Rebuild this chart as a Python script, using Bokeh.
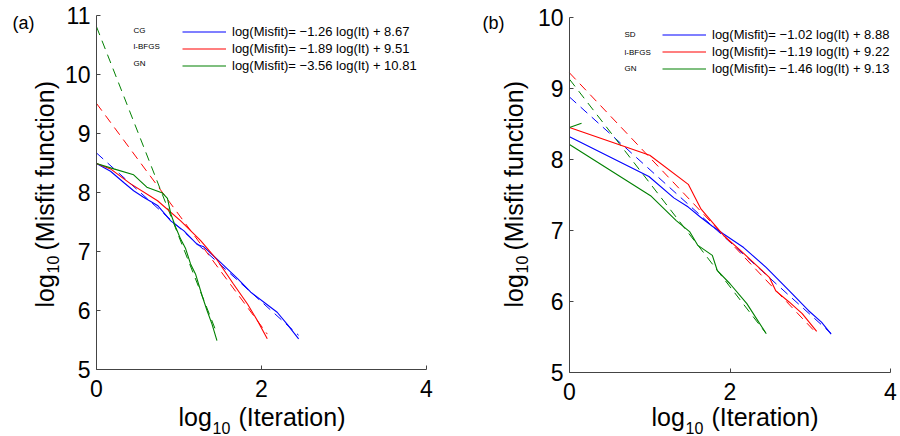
import math

from bokeh.embed import file_html
from bokeh.layouts import row
from bokeh.models import FixedTicker, Label, Legend, LegendItem, LinearAxis, Range1d
from bokeh.plotting import figure
from bokeh.resources import INLINE

FONT = "Liberation Sans"
BLUE = "#0000ff"
RED = "#ff0000"
GREEN = "#008000"
H = 436

# ---- panel (a): log10(iteration) vs log10(misfit) ----
a_cg_x = [0, 0.17, 0.33, 0.45, 0.57, 0.74, 0.90, 1.06, 1.22, 1.30, 1.50, 1.71, 1.87, 2.03, 2.19, 2.31, 2.45]
a_cg_y = [8.49, 8.36, 8.17, 8.03, 7.92, 7.78, 7.52, 7.35, 7.12, 7.08, 6.82, 6.54, 6.31, 6.14, 5.97, 5.77, 5.52]
a_lbfgs_x = [0, 0.17, 0.41, 0.74, 1.02, 1.26, 1.46, 1.66, 1.83, 1.95, 2.07]
a_lbfgs_y = [8.49, 8.40, 8.15, 7.86, 7.52, 7.19, 6.86, 6.45, 6.11, 5.83, 5.52]
a_gn_x = [0, 0.21, 0.45, 0.61, 0.80, 0.86, 0.90, 0.96, 1.02, 1.08, 1.14, 1.20, 1.28, 1.34, 1.40, 1.46]
a_gn_y = [8.49, 8.40, 8.30, 8.09, 7.99, 7.90, 7.64, 7.41, 7.21, 7.05, 6.79, 6.62, 6.25, 6.00, 5.77, 5.49]

# fitted lines (dashed), end points
a_cg_fit_x = [0, 2.45]
a_cg_fit_y = [8.67, 5.58]
a_lbfgs_fit_x = [0, 2.07]
a_lbfgs_fit_y = [9.51, 5.60]
a_gn_fit_x = [0, 1.46]
a_gn_fit_y = [10.81, 5.61]

a_names = ["CG", "l-BFGS", "GN"]
a_fits = ["log(Misfit)= \u22121.26 log(It) + 8.67",
          "log(Misfit)= \u22121.89 log(It) + 9.51",
          "log(Misfit)= \u22123.56 log(It) + 10.81"]
a_yticks = [5, 6, 7, 8, 9, 10, 11]

# ---- panel (b) ----
b_sd_x = [0, 0.99, 1.30, 1.48, 1.63, 1.78, 1.92, 2.17, 2.45, 2.74, 2.98, 3.14, 3.26]
b_sd_y = [8.32, 7.76, 7.46, 7.33, 7.19, 7.06, 6.95, 6.76, 6.48, 6.15, 5.87, 5.71, 5.54]
b_lbfgs_x = [0, 1.00, 1.48, 1.64, 1.80, 1.92, 2.13, 2.33, 2.49, 2.57, 2.74, 2.90, 3.08]
b_lbfgs_y = [8.45, 8.06, 7.65, 7.30, 7.09, 6.93, 6.72, 6.51, 6.34, 6.15, 5.99, 5.83, 5.58]
b_gn_x = [0, 1.01, 1.33, 1.50, 1.60, 1.78, 1.84, 2.00, 2.21, 2.45]
b_gn_y = [8.21, 7.49, 7.14, 6.98, 6.79, 6.65, 6.44, 6.25, 5.97, 5.55]
b_gn_start_x = [0, 0.15]
b_gn_start_y = [8.45, 8.51]

b_sd_fit_x = [0, 3.26]
b_sd_fit_y = [8.88, 5.55]
b_lbfgs_fit_x = [0, 3.08]
b_lbfgs_fit_y = [9.22, 5.55]
b_gn_fit_x = [0, 2.45]
b_gn_fit_y = [9.13, 5.55]

b_names = ["SD", "l-BFGS", "GN"]
b_fits = ["log(Misfit)= \u22121.02 log(It) + 8.88",
          "log(Misfit)= \u22121.19 log(It) + 9.22",
          "log(Misfit)= \u22121.46 log(It) + 9.13"]
b_yticks = [5, 6, 7, 8, 9, 10]

x_ticks = [0, 2, 4]


def span(lo, hi, px_lo, px_hi, size):
    # range whose lo/hi values land on the given canvas pixels
    k = (px_hi - px_lo) / (hi - lo)
    return Range1d(lo - px_lo / k, lo + (size - px_lo) / k)


def txt(p, x, y, s, size, angle=0.0, baseline="alphabetic"):
    p.add_layout(Label(x=x, y=y, x_units="screen", y_units="screen", text=s,
                       angle=angle, text_font=FONT, text_font_size=size,
                       text_color="black", text_baseline=baseline, text_align="left"))


def panel(tag, curves, fits, names, yticks, width, xpix, ypix, leg_xy, row_h,
          name_x, name_y, ylab_x):
    p = figure(width=width, height=H,
               x_range=span(0, 4, xpix[0], xpix[1], width),
               y_range=span(yticks[0], yticks[-1], ypix[0], ypix[1], H),
               x_axis_type=None, y_axis_type=None,
               output_backend="svg", toolbar_location=None, min_border=0)
    p.outline_line_color = None

    xa = LinearAxis(fixed_location=yticks[0], bounds=(0, 4),
                    ticker=FixedTicker(ticks=x_ticks))
    ya = LinearAxis(fixed_location=0, bounds=(yticks[0], yticks[-1]),
                    ticker=FixedTicker(ticks=yticks))
    for ax in (xa, ya):
        ax.major_label_text_font = FONT
        ax.major_label_text_font_size = "23px"
        ax.major_label_text_color = "black"
        ax.axis_line_color = "#444444"
        ax.major_tick_line_color = "#444444"
        ax.major_tick_in = 4
        ax.major_tick_out = 0
        ax.minor_tick_in = 0
        ax.minor_tick_out = 0
    xa.major_label_standoff = 10
    ya.major_label_standoff = 6
    p.add_layout(xa, "below")
    p.add_layout(ya, "left")

    for fx, fy, color in fits:
        p.line(fx, fy, line_color=color, line_width=1, line_dash="9 6")

    items = []
    for xs, ys, color, lab in curves:
        r = p.line(xs, ys, line_color=color, line_width=1.1)
        if lab is not None:
            items.append(LegendItem(label=lab, renderers=[r]))

    leg = Legend(items=items, location=leg_xy, orientation="vertical",
                 border_line_color=None, background_fill_alpha=0,
                 padding=0, margin=0, spacing=0,
                 glyph_width=44, glyph_height=row_h, label_height=row_h,
                 label_standoff=6, label_text_font=FONT,
                 label_text_font_size="13px", label_text_color="black")
    p.add_layout(leg)

    for name, ny in zip(names, name_y):
        txt(p, name_x, ny, name, "8px", baseline="middle")

    # panel tag
    txt(p, 12, H - 22, tag, "18px", baseline="middle")

    # x axis label: log_10 (Iteration)
    x0 = xpix[0]
    txt(p, x0 + 82, 20, "log", "25px")
    txt(p, x0 + 116, 9, "10", "16px")
    txt(p, x0 + 142, 20, "(Iteration)", "25px")

    # y axis label, rotated
    a = math.pi / 2
    txt(p, ylab_x, 129, "log", "25px", angle=a)
    txt(p, ylab_x + 8, 163, "10", "16px", angle=a)
    txt(p, ylab_x, 186, "(Misfit function)", "25px", angle=a)
    return p


pa = panel("(a)",
           [(a_cg_x, a_cg_y, BLUE, a_fits[0]),
            (a_lbfgs_x, a_lbfgs_y, RED, a_fits[1]),
            (a_gn_x, a_gn_y, GREEN, a_fits[2])],
           [(a_cg_fit_x, a_cg_fit_y, BLUE),
            (a_lbfgs_fit_x, a_lbfgs_fit_y, RED),
            (a_gn_fit_x, a_gn_fit_y, GREEN)],
           a_names, a_yticks, width=470,
           xpix=(96, 426), ypix=(H - 369, H - 15),
           leg_xy=(182, H - 74), row_h=17,
           name_x=133, name_y=[H - 30, H - 46, H - 63], ylab_x=44)

pb = panel("(b)",
           [(b_sd_x, b_sd_y, BLUE, b_fits[0]),
            (b_lbfgs_x, b_lbfgs_y, RED, b_fits[1]),
            (b_gn_x, b_gn_y, GREEN, b_fits[2]),
            (b_gn_start_x, b_gn_start_y, GREEN, None)],
           [(b_sd_fit_x, b_sd_fit_y, BLUE),
            (b_lbfgs_fit_x, b_lbfgs_fit_y, RED),
            (b_gn_fit_x, b_gn_fit_y, GREEN)],
           b_names, b_yticks, width=430,
           xpix=(99, 420), ypix=(H - 372, H - 17),
           leg_xy=(192, H - 77), row_h=17,
           name_x=154, name_y=[H - 34, H - 52, H - 68], ylab_x=43)

layout = row(pa, pb)
open("out.html", "w").write(file_html(layout, INLINE))
